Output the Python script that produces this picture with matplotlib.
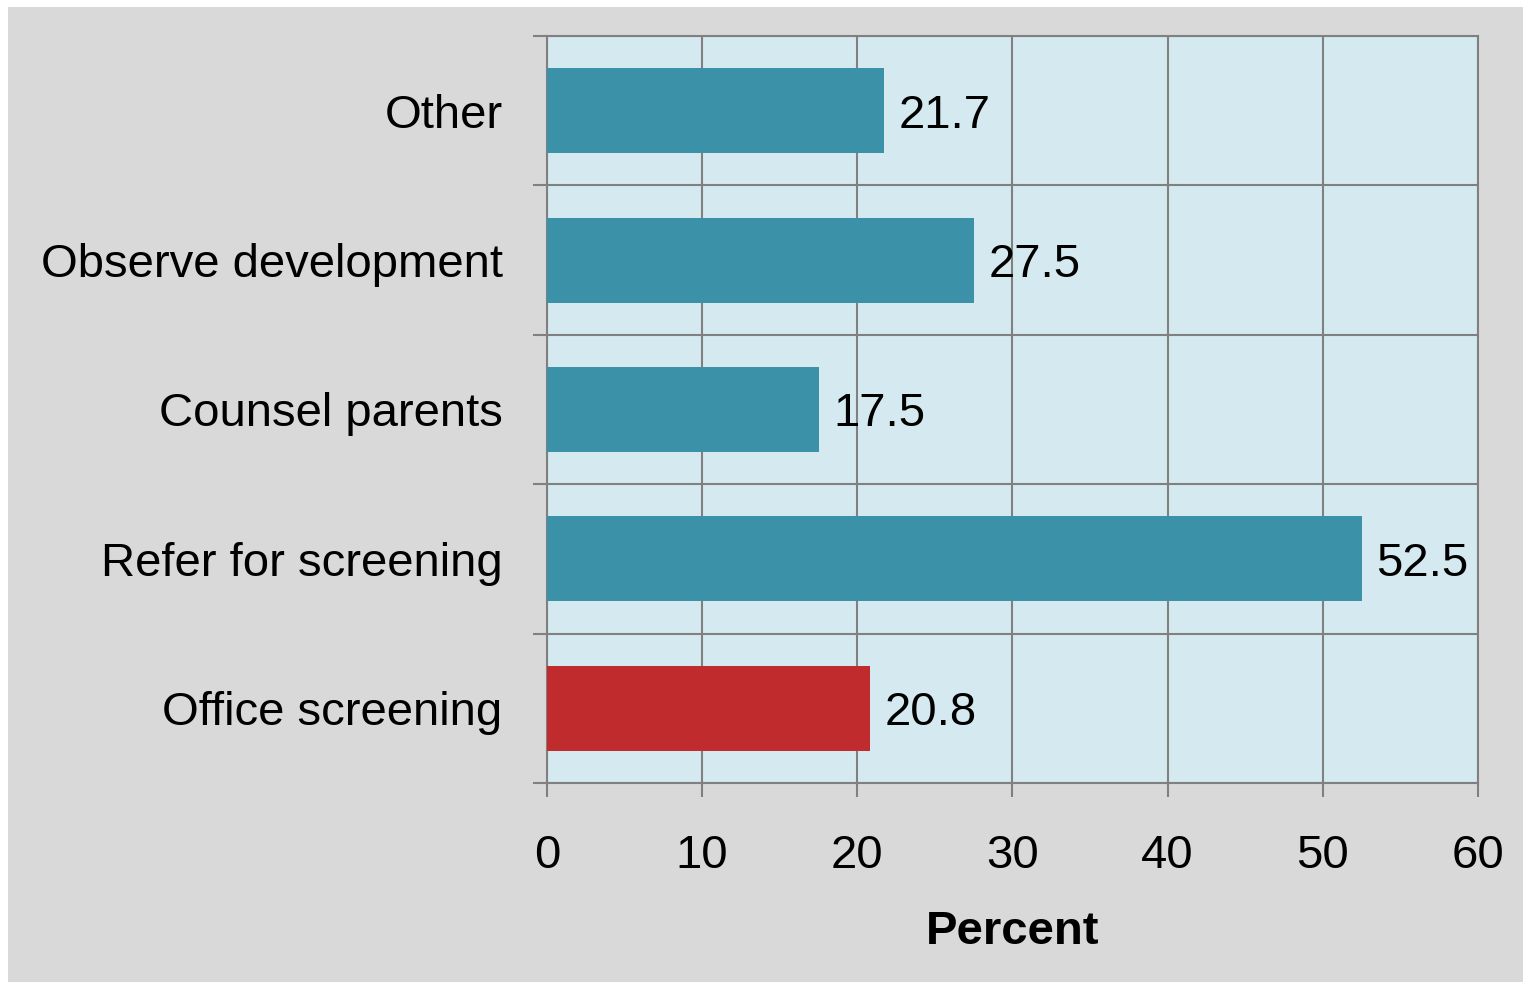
import matplotlib
matplotlib.use("Agg")
import matplotlib.pyplot as plt
from matplotlib.patches import Rectangle
import numpy as np

categories = ["Office screening", "Refer for screening", "Counsel parents",
              "Observe development", "Other"]
values = [20.8, 52.5, 17.5, 27.5, 21.7]
colors = ["#c02b2e", "#3a91a8", "#3a91a8", "#3a91a8", "#3a91a8"]
x_ticks = [0, 10, 20, 30, 40, 50, 60]

plt.rcParams["font.family"] = ["Liberation Sans", "DejaVu Sans"]
FS = 34

fig = plt.figure(figsize=(15.23, 9.82), dpi=100, facecolor="white")
fig.patches.append(Rectangle((8 / 1523, 0), 1, 1 - 7 / 982, transform=fig.transFigure,
                             facecolor="#d9d9d9", edgecolor="none", zorder=-10))

ax = fig.add_axes([547 / 1523, 1 - 783 / 982, (1478 - 547) / 1523, (783 - 36) / 982])
ax.set_facecolor("#d5eaf0")

y = np.arange(len(categories))
ax.barh(y, values, height=0.57, color=colors, zorder=3)

for yi, v in zip(y, values):
    ax.text(v + 0.95, yi, f"{v:.1f}", va="center_baseline", ha="left", fontsize=FS, zorder=4)

grid_c = "#808080"
ax.set_xlim(0, 60)
ax.set_ylim(-0.5, len(categories) - 0.5)
ax.set_xticks(x_ticks)
ax.set_xticklabels([str(t) for t in x_ticks], fontsize=FS)
ax.set_yticks(y)
ax.set_yticklabels(categories, fontsize=FS)
for lbl in ax.get_yticklabels():
    lbl.set_verticalalignment("center_baseline")
ax.set_yticks(np.arange(-0.5, len(categories)), minor=True)

ax.tick_params(axis="x", direction="out", length=10, width=1.5, color=grid_c, pad=27)
ax.tick_params(axis="y", which="major", length=0, pad=32)
ax.tick_params(axis="y", which="minor", direction="out", length=10, width=1.5, color=grid_c)

ax.grid(axis="x", which="major", color=grid_c, linewidth=1.5, zorder=1)
ax.grid(axis="y", which="minor", color=grid_c, linewidth=1.5, zorder=1)
ax.set_axisbelow(True)
for s in ax.spines.values():
    s.set_color(grid_c)
    s.set_linewidth(1.5)

ax.set_xlabel("Percent", fontsize=FS, fontweight="bold", labelpad=23)

fig.savefig("out.png", dpi=100, facecolor=fig.get_facecolor())
